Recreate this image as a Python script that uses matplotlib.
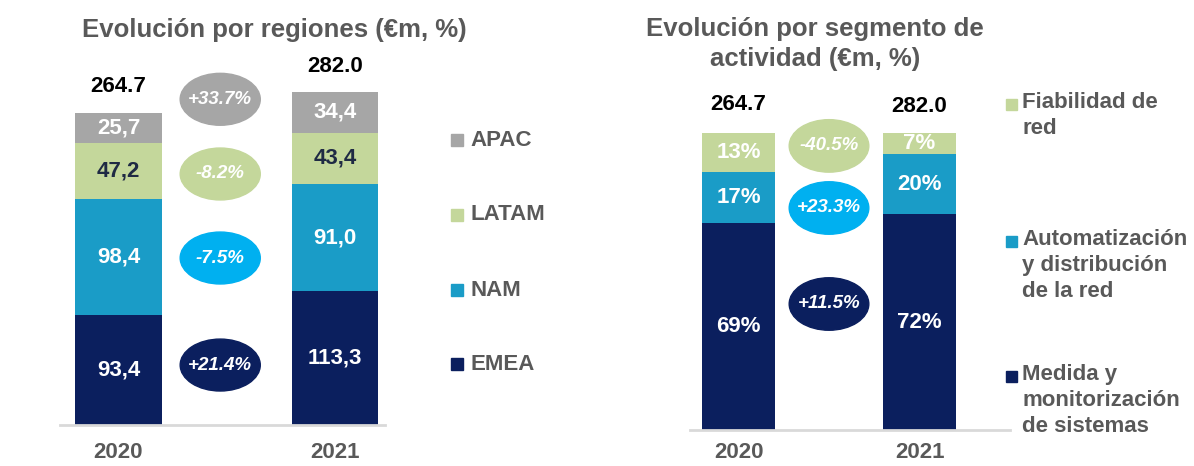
import matplotlib
matplotlib.use("Agg")
import matplotlib.pyplot as plt
from matplotlib.patches import Ellipse, Rectangle
import numpy as np

plt.rcParams['font.family'] = ['Liberation Sans', 'DejaVu Sans']

# data
years = ['2020', '2021']
regions = ['EMEA', 'NAM', 'LATAM', 'APAC']
region_vals = {
    'EMEA': [93.4, 113.3],
    'NAM': [98.4, 91.0],
    'LATAM': [47.2, 43.4],
    'APAC': [25.7, 34.4],
}
region_totals = [264.7, 282.0]
region_growth = ['+21.4%', '-7.5%', '-8.2%', '+33.7%']

segments = ['Medida y\nmonitorización\nde sistemas',
            'Automatización\ny distribución\nde la red',
            'Fiabilidad de\nred']
segment_pct = {
    0: [69, 72],
    1: [17, 20],
    2: [13, 7],
}
segment_totals = [264.7, 282.0]
segment_growth = ['+11.5%', '+23.3%', '-40.5%']

navy = '#0B1F5E'
teal = '#1A9CC7'
green = '#C4D79B'
gray = '#A6A6A6'
sky = '#00B0F0'
txt = '#595959'

W, H = 1194, 466
fig = plt.figure(figsize=(W / 100, H / 100), dpi=100)


def fx(x):
    return x / W


def fy(y):
    return 1 - y / H


def add_ax(left, right, top, bottom):
    ax = fig.add_axes([fx(left), fy(bottom), fx(right) - fx(left), fy(top) - fy(bottom)])
    for s in ['top', 'right', 'left']:
        ax.spines[s].set_visible(False)
    ax.spines['bottom'].set_color('#D9D9D9')
    ax.spines['bottom'].set_linewidth(2)
    ax.set_yticks([])
    ax.tick_params(axis='x', length=0, pad=12)
    return ax


# ---------------- left panel ----------------
ax1 = add_ax(60, 385, 60, 425)
x = np.arange(len(years))
bw = 0.40
cols1 = [navy, teal, green, gray]
lblcol1 = ['white', 'white', '#1F2A44', 'white']
bottom = np.zeros(2)
for r, c, lc in zip(regions, cols1, lblcol1):
    v = np.array(region_vals[r])
    ax1.bar(x, v, bw, bottom=bottom, color=c)
    for i in range(2):
        ax1.text(x[i], bottom[i] + v[i] / 2, f'{v[i]:.1f}'.replace('.', ','),
                 ha='center', va='center', color=lc, fontsize=16, fontweight='bold')
    bottom += v
for i in range(2):
    ax1.text(x[i], bottom[i] + 22, f'{region_totals[i]:.1f}', ha='center', va='center',
             color='black', fontsize=16, fontweight='bold')
ax1.set_xlim(-0.270, 1.231)
ax1.set_ylim(0, 309.3)
ax1.set_xticks(x)
ax1.set_xticklabels(years, fontsize=16, fontweight='bold', color=txt)

ell_y1 = [50.8, 141.5, 212.7, 276]
ell_c1 = [navy, sky, green, gray]
for g, yy, c in zip(region_growth, ell_y1, ell_c1):
    ax1.add_patch(Ellipse((0.47, yy), 0.37, 44, color=c, clip_on=False))
    ax1.text(0.47, yy, g, ha='center', va='center', color='white', fontsize=13.5,
             fontweight='bold', style='italic')

fig.text(fx(274), fy(30), 'Evolución por regiones (€m, %)', ha='center', va='center',
         fontsize=18.5, fontweight='bold', color=txt)

leg_y1 = [364, 290, 215, 140]
for r, c, yy in zip(regions, cols1, leg_y1):
    fig.patches.append(Rectangle((fx(451), fy(yy + 6)), fx(12), 12 / H, color=c,
                                 transform=fig.transFigure))
    fig.text(fx(470), fy(yy), r, ha='left', va='center', fontsize=16,
             fontweight='bold', color=txt)

# ---------------- right panel ----------------
ax2 = add_ax(690, 1010, 100, 430)
bw2 = 0.403
cols2 = [navy, teal, green]
bottom = np.zeros(2)
for k, c in zip(range(3), cols2):
    v = np.array(segment_pct[k], dtype=float)
    ax2.bar(x, v, bw2, bottom=bottom, color=c)
    for i in range(2):
        ax2.text(x[i], bottom[i] + v[i] / 2, f'{int(v[i])}%', ha='center', va='center',
                 color='white', fontsize=16, fontweight='bold')
    bottom += v
for i in range(2):
    ax2.text(x[i], bottom[i] + 9.5 - i * 0.7, f'{segment_totals[i]:.1f}', ha='center',
             va='center', color='black', fontsize=16, fontweight='bold')
ax2.set_xlim(-0.268, 1.5)
ax2.set_ylim(0, 110)
ax2.set_xticks(x)
ax2.set_xticklabels(years, fontsize=16, fontweight='bold', color=txt)
ax2.tick_params(axis='x', pad=9)

ell_y2 = [42, 74, 94.7]
ell_c2 = [navy, sky, green]
for g, yy, c in zip(segment_growth, ell_y2, ell_c2):
    ax2.add_patch(Ellipse((0.5, yy), 0.44, 17.5, color=c, clip_on=False))
    ax2.text(0.5, yy, g, ha='center', va='center', color='white', fontsize=13.5,
             fontweight='bold', style='italic')

fig.text(fx(815), fy(44), 'Evolución por segmento de\nactividad (€m, %)', ha='center',
         va='center', fontsize=18.5, fontweight='bold', color=txt, linespacing=1.3)

leg_y2 = [376, 241, 104]
for s, c, yy in zip(segments, cols2, leg_y2):
    fig.patches.append(Rectangle((fx(1006), fy(yy + 6)), fx(11), 11 / H, color=c,
                                 transform=fig.transFigure))
    fig.text(fx(1022), fy(yy - 12), s, ha='left', va='top', fontsize=16,
             fontweight='bold', color=txt, linespacing=1.32)

fig.savefig('out.png', dpi=100)
